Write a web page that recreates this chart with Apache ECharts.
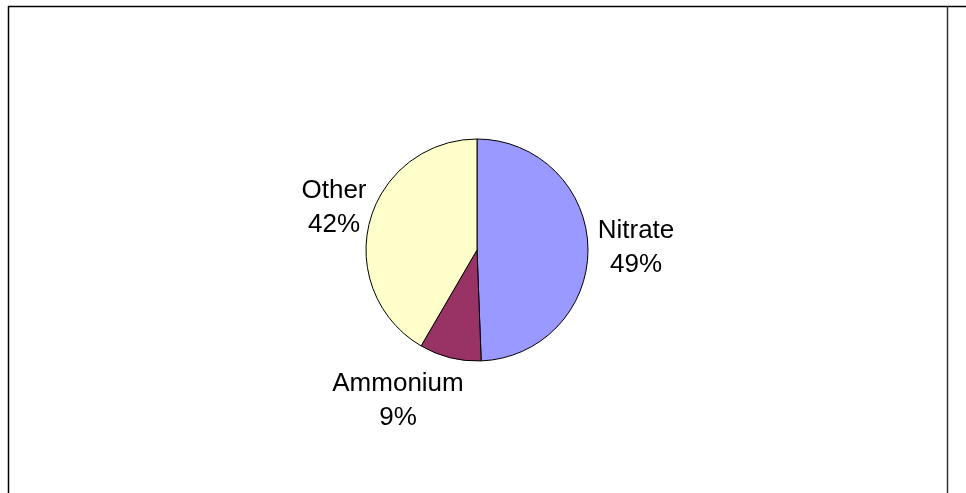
<!DOCTYPE html>
<html>
<head>
<meta charset="utf-8">
<style>
  html, body { margin: 0; padding: 0; background: #fff; }
  #chart { width: 966px; height: 493px; }
</style>
<script src="https://cdn.jsdelivr.net/npm/echarts@6/dist/echarts.min.js"></script>
</head>
<body>
<div id="chart"></div>
<script>
// Nitrogen sources, share in percent
const categories = ['Nitrate', 'Ammonium', 'Other'];
const shares = [49.4, 9.0, 41.6];
const sliceColors = ['#9999FF', '#993366', '#FFFFCC'];

// label anchor points (block centres) per slice
const labelSpots = [[636, 248], [398, 401], [334, 208]];

const chart = echarts.init(document.getElementById('chart'), null, { renderer: 'canvas' });

chart.setOption({
  animation: false,
  backgroundColor: '#ffffff',
  graphic: [
    { type: 'line', shape: { x1: 8, y1: 6.5, x2: 966, y2: 6.5 }, style: { stroke: '#000', lineWidth: 1.5 } },
    { type: 'line', shape: { x1: 8.5, y1: 6, x2: 8.5, y2: 493 }, style: { stroke: '#000', lineWidth: 1.5 } },
    { type: 'line', shape: { x1: 947.5, y1: 6, x2: 947.5, y2: 493 }, style: { stroke: '#333', lineWidth: 1.5 } }
  ],
  series: [{
    type: 'pie',
    center: [477, 250],
    radius: 111,
    startAngle: 90,
    clockwise: true,
    avoidLabelOverlap: false,
    itemStyle: { borderColor: '#000', borderWidth: 1 },
    emphasis: { disabled: true },
    label: {
      show: true,
      position: 'outside',
      color: '#000',
      fontFamily: 'Liberation Sans, Arial, sans-serif',
      fontSize: 26,
      lineHeight: 34,
      align: 'center',
      formatter: p => p.name + '\n' + Math.round(p.percent) + '%'
    },
    labelLine: { show: false },
    labelLayout: function (params) {
      const s = labelSpots[params.dataIndex];
      return { x: s[0], y: s[1], align: 'center', verticalAlign: 'middle' };
    },
    data: categories.map((c, i) => ({
      name: c,
      value: shares[i],
      itemStyle: { color: sliceColors[i] }
    }))
  }]
});
</script>
</body>
</html>
